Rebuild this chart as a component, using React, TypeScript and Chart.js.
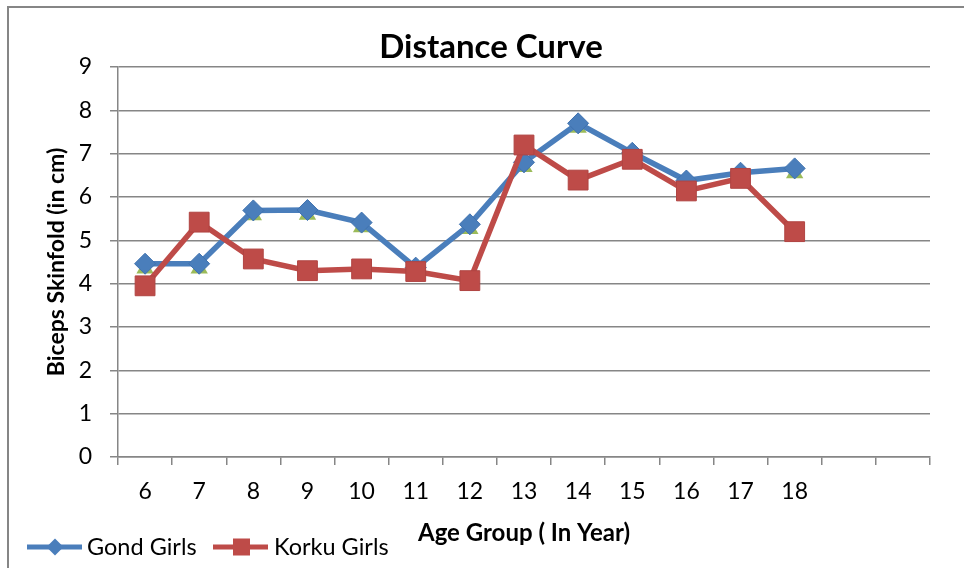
import React, { useEffect, useRef } from 'react';
import { Chart, registerables } from 'chart.js';

Chart.register(...registerables);

// ---- Data ----
const ageGroups = ['6', '7', '8', '9', '10', '11', '12', '13', '14', '15', '16', '17', '18', '', ''];
const gondGirls = [4.46, 4.46, 5.69, 5.70, 5.41, 4.37, 5.37, 6.80, 7.70, 7.02, 6.38, 6.56, 6.66, null, null];
const korkuGirls = [3.95, 5.42, 4.57, 4.30, 4.34, 4.28, 4.07, 7.20, 6.39, 6.87, 6.14, 6.43, 5.20, null, null];
const hiddenSeries = [4.35, 4.35, 5.58, 5.59, 5.30, 4.26, 5.26, 6.69, 7.60, 6.91, 6.28, 6.45, 6.55, null, null];
const yMin = 0;
const yMax = 9;

const chartTitle = 'Distance Curve';
const xTitle = 'Age Group ( In Year)';
const yTitle = 'Biceps Skinfold (in cm)';
const legendNames = ['Gond Girls', 'Korku Girls'];

const BLUE = '#4A7EBB';
const BLUE_B = '#3F72AF';
const RED = '#BE4B48';
const RED_B = '#B04442';
const GREEN = '#9BBB59';
const GRID = '#868686';
const FONT = 'Lato';

const decorPlugin = {
  id: 'decor',
  beforeDraw(chart: any) {
    const ctx = chart.ctx;
    ctx.save();
    ctx.fillStyle = '#ffffff';
    ctx.fillRect(0, 0, chart.width, chart.height);
    ctx.strokeStyle = GRID;
    ctx.lineWidth = 2;
    ctx.beginPath();
    ctx.moveTo(8, chart.height);
    ctx.lineTo(8, 7);
    ctx.lineTo(chart.width, 7);
    ctx.stroke();
    ctx.restore();
  },
  afterDraw(chart: any) {
    const ctx = chart.ctx;
    ctx.save();
    // title
    ctx.fillStyle = '#000000';
    ctx.font = `bold 33px ${FONT}`;
    ctx.textAlign = 'center';
    ctx.textBaseline = 'alphabetic';
    ctx.fillText(chartTitle, 491, 58);

    // legend
    ctx.font = `23.5px ${FONT}`;
    ctx.textAlign = 'left';
    ctx.textBaseline = 'middle';
    const ly = 547;
    // Gond
    ctx.strokeStyle = BLUE;
    ctx.lineWidth = 5;
    ctx.beginPath();
    ctx.moveTo(27, ly);
    ctx.lineTo(82, ly);
    ctx.stroke();
    ctx.fillStyle = BLUE;
    ctx.beginPath();
    ctx.moveTo(55, ly - 8.5);
    ctx.lineTo(63.5, ly);
    ctx.lineTo(55, ly + 8.5);
    ctx.lineTo(46.5, ly);
    ctx.closePath();
    ctx.fill();
    ctx.fillStyle = '#000000';
    ctx.fillText(legendNames[0], 87, ly);
    // Korku
    ctx.strokeStyle = RED;
    ctx.beginPath();
    ctx.moveTo(213, ly);
    ctx.lineTo(268, ly);
    ctx.stroke();
    ctx.fillStyle = RED;
    ctx.fillRect(233, ly - 8.5, 17, 17);
    ctx.fillStyle = '#000000';
    ctx.fillText(legendNames[1], 274, ly);
    ctx.restore();
  },
};

export default function App() {
  const canvasRef = useRef<HTMLCanvasElement | null>(null);

  useEffect(() => {
    if (!canvasRef.current) return;
    const chart = new Chart(canvasRef.current, {
      type: 'line',
      data: {
        labels: ageGroups,
        datasets: [
          {
            label: legendNames[1],
            data: korkuGirls,
            borderColor: RED,
            backgroundColor: RED,
            borderWidth: 5.5,
            pointStyle: 'rect',
            pointRadius: 14,
            pointBorderColor: RED_B,
            pointBorderWidth: 1,
            pointBackgroundColor: RED,
            tension: 0,
            order: 1,
          },
          {
            label: legendNames[0],
            data: gondGirls,
            borderColor: BLUE,
            backgroundColor: BLUE,
            borderWidth: 5.5,
            pointStyle: 'rectRot',
            pointRadius: 10.5,
            pointBorderColor: BLUE_B,
            pointBorderWidth: 1,
            pointBackgroundColor: BLUE,
            tension: 0,
            order: 2,
          },
          {
            label: 'Series 3',
            data: hiddenSeries,
            showLine: false,
            borderColor: GREEN,
            backgroundColor: GREEN,
            pointStyle: 'triangle',
            pointRadius: 10,
            pointBorderWidth: 0,
            pointBackgroundColor: GREEN,
            order: 3,
          },
        ],
      },
      options: {
        responsive: false,
        animation: false,
        events: [],
        layout: { padding: { left: 8, right: 34, top: 67, bottom: 0 } },
        plugins: {
          legend: { display: false },
          title: { display: false },
          tooltip: { enabled: false },
        },
        scales: {
          x: {
            type: 'category',
            offset: true,
            afterFit: (scale: any) => {
              scale.height = 111;
            },
            grid: {
              offset: true,
              drawOnChartArea: false,
              drawTicks: true,
              tickLength: 8,
              color: GRID,
              lineWidth: 1.5,
            },
            border: { display: true, color: GRID, width: 1.5 },
            ticks: {
              color: '#000000',
              font: { family: FONT, size: 23 },
              padding: 13,
              maxRotation: 0,
              autoSkip: false,
            },
            title: {
              display: true,
              text: xTitle,
              color: '#000000',
              font: { family: FONT, size: 24, weight: 'bold' },
              padding: { top: 0, bottom: 20.5 },
            },
          },
          y: {
            min: yMin,
            max: yMax,
            afterFit: (scale: any) => {
              scale.width = 110;
            },
            grid: {
              color: GRID,
              lineWidth: 1.5,
              drawTicks: true,
              tickLength: 8,
            },
            border: { display: true, color: GRID, width: 1.5 },
            ticks: {
              stepSize: 1,
              color: '#000000',
              font: { family: FONT, size: 23 },
              padding: 18,
            },
            title: {
              display: true,
              text: yTitle,
              color: '#000000',
              font: { family: FONT, size: 23, weight: 'bold' },
              padding: { top: 35, bottom: 0 },
            },
          },
        },
      },
      plugins: [decorPlugin],
    });
    return () => chart.destroy();
  }, []);

  return (
    <div style={{ position: 'fixed', left: 0, top: 0, width: 964, height: 568, background: '#fff' }}>
      <canvas ref={canvasRef} width={964} height={568} style={{ display: 'block' }} />
    </div>
  );
}
